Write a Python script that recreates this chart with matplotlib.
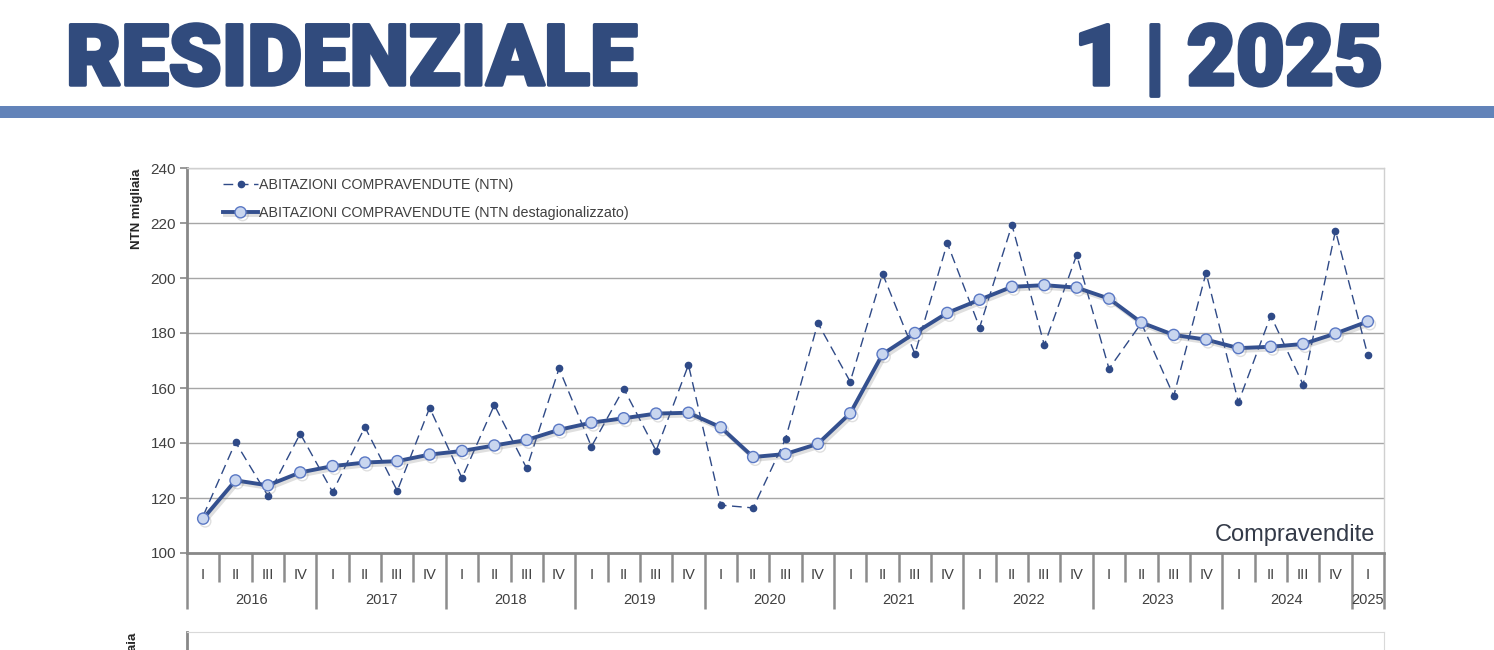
import matplotlib.pyplot as plt
import matplotlib.patheffects as pe
from matplotlib.patches import Rectangle
import matplotlib.transforms as mtransforms

# quarters 2016 I .. 2025 I
years = ['2016', '2017', '2018', '2019', '2020', '2021', '2022', '2023', '2024', '2025']
quarters = ['I', 'II', 'III', 'IV'] * 9 + ['I']

ntn = [113.5, 140.3, 120.8, 143.4,
       122.2, 145.8, 122.6, 152.8,
       127.3, 153.8, 130.8, 167.1,
       138.7, 159.8, 137.2, 168.4,
       117.4, 116.4, 141.5, 183.6,
       162.3, 201.6, 172.4, 212.7,
       182.0, 219.3, 175.6, 208.4,
       167.0, 183.6, 157.1, 201.9,
       154.8, 186.3, 161.2, 217.2,
       171.9]

ntn_destag = [112.5, 126.4, 124.6, 129.3,
              131.6, 132.9, 133.4, 135.8,
              137.1, 139.1, 141.1, 144.8,
              147.4, 149.0, 150.7, 151.0,
              145.7, 134.9, 136.0, 139.7,
              150.8, 172.3, 180.0, 187.3,
              192.1, 196.8, 197.4, 196.5,
              192.5, 183.8, 179.3, 177.6,
              174.5, 175.0, 176.0, 179.8,
              184.2]

dark_blue = '#2f4a87'
head_blue = '#314b7d'
band_blue = '#6283b9'
txt = '#404040'

plt.rcParams['font.family'] = ['Liberation Sans', 'DejaVu Sans']

fig = plt.figure(figsize=(14.94, 6.5), dpi=100)

# header
head_fx = [pe.withStroke(linewidth=2.5, foreground=head_blue)]
fig.text(66 / 1494, (650 - 85) / 650, 'RESIDENZIALE', fontsize=61, fontweight='black',
         color=head_blue, ha='left', va='baseline', family=['Roboto', 'DejaVu Sans'],
         path_effects=head_fx)
fig.text(1383 / 1494, (650 - 85) / 650, '1 | 2025', fontsize=61, fontweight='black',
         color=head_blue, ha='right', va='baseline', family=['Roboto', 'DejaVu Sans'],
         path_effects=head_fx)
fig.patches.append(Rectangle((0, (650 - 118) / 650), 1, 12 / 650, transform=fig.transFigure,
                             facecolor=band_blue, edgecolor='none'))

ax = fig.add_axes([187 / 1494, (650 - 553) / 650, (1384 - 187) / 1494, (553 - 168) / 650])

x = list(range(len(ntn)))
ax.plot(x, ntn, linestyle=(0, (7, 4)), linewidth=1.0, color=dark_blue, marker='o',
        markersize=4.5, markerfacecolor=dark_blue, markeredgecolor=dark_blue,
        label='ABITAZIONI COMPRAVENDUTE (NTN)', zorder=3)
ax.plot(x, ntn_destag, linestyle='-', linewidth=2.8, color='#34508f', marker='o',
        markersize=8, markerfacecolor='#c9d6ef', markeredgecolor='#5a78c4', markeredgewidth=1.0,
        label='ABITAZIONI COMPRAVENDUTE (NTN destagionalizzato)', zorder=4,
        path_effects=[pe.SimpleLineShadow(offset=(1.5, -2), shadow_color='#808080', alpha=0.25),
                      pe.Normal()])

ax.set_xlim(-0.5, len(ntn) - 0.5)
ax.set_ylim(100, 240)
ax.set_yticks(range(100, 241, 20))
ax.grid(axis='y', color='#a6a6a6', linewidth=1.0)
ax.set_axisbelow(True)

ax.tick_params(axis='y', labelsize=11, labelcolor=txt, color='#888888', length=5, width=1.2, pad=3)
ax.set_xticks(x)
ax.set_xticklabels(quarters)
ax.tick_params(axis='x', length=0, labelsize=10.5, labelcolor=txt, pad=11)

for s in ['top', 'right']:
    ax.spines[s].set_color('#d0d0d0')
    ax.spines[s].set_linewidth(1.0)
for s in ['left', 'bottom']:
    ax.spines[s].set_color('#888888')
    ax.spines[s].set_linewidth(2.0)

trans = mtransforms.blended_transform_factory(ax.transData, ax.transAxes)
n = len(ntn)
for b in range(n + 1):
    pos = b - 0.5
    low = -0.145 if (b % 4 == 0 or b == n) else -0.076
    ax.plot([pos, pos], [0, low], transform=trans, color='#8c8c8c', linewidth=1.8,
            clip_on=False, solid_capstyle='butt')
for i, yr in enumerate(years):
    start = i * 4
    end = min(start + 4, n)
    ax.text((start + end - 1) / 2, -0.122, yr, transform=trans, ha='center', va='center',
            fontsize=10.5, color=txt)

ax.set_ylabel('NTN migliaia', fontsize=9.5, fontweight='bold', color='#262626',
              family=['Liberation Sans', 'DejaVu Sans'])
ax.yaxis.set_label_coords(-0.037, 0.893)

ax.text(0.993, 0.047, 'Compravendite', transform=ax.transAxes, ha='right', va='center',
        fontsize=17, color='#333a48')

ax.legend(loc='upper left', bbox_to_anchor=(0.022, 1.0), frameon=False, fontsize=10.3,
          labelcolor=txt, handlelength=2.4, handletextpad=0.1, labelspacing=1.0,
          borderaxespad=0.3)

# top of the next chart below
ax2 = fig.add_axes([187 / 1494, -0.3, (1384 - 187) / 1494, 0.3 + (650 - 632) / 650])
ax2.set_xticks([])
ax2.set_yticks([])
for s in ['top', 'right']:
    ax2.spines[s].set_color('#d9d9d9')
ax2.spines['left'].set_color('#888888')
ax2.spines['left'].set_linewidth(2.0)
fig.text(133 / 1494, (650 - 633) / 650, 'NTN migliaia', rotation=90, fontsize=9.5,
         fontweight='bold', color='#262626', ha='center', va='top',
         family=['Liberation Sans', 'DejaVu Sans'])

fig.savefig('out.png', dpi=100)
